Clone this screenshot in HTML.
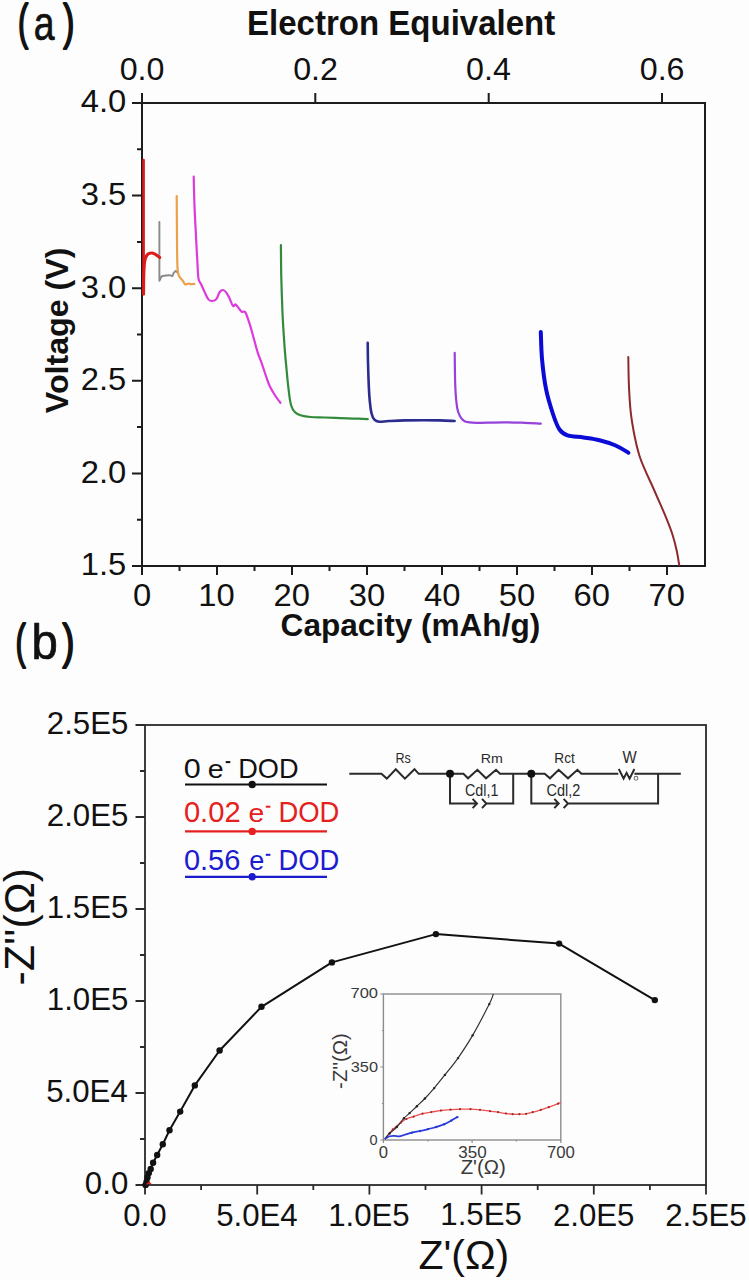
<!DOCTYPE html>
<html><head><meta charset="utf-8"><title>Figure</title>
<style>
html,body{margin:0;padding:0;background:#fdfdfd;overflow:hidden;}
svg{display:block;}
text{font-family:"Liberation Sans", sans-serif;}
</style></head>
<body>
<svg width="749" height="1280" viewBox="0 0 749 1280">
<rect width="749" height="1280" fill="#fdfdfd"/>
<rect x="142" y="103" width="563" height="463" fill="none" stroke="#1c1c1c" stroke-width="2"/>
<path d="M132,566.0H142M132,473.4H142M132,380.8H142M132,288.2H142M132,195.6H142M132,103.0H142M137,519.7H142M137,427.1H142M137,334.5H142M137,241.9H142M137,149.3H142M142.0,566V575M217.0,566V575M292.0,566V575M367.0,566V575M442.0,566V575M517.0,566V575M592.0,566V575M667.0,566V575M179.5,566V571M254.5,566V571M329.5,566V571M404.5,566V571M479.5,566V571M554.5,566V571M629.5,566V571M142.0,103V93M315.3,103V93M488.7,103V93M662.0,103V93" stroke="#1c1c1c" stroke-width="2" fill="none"/>
<path d="M159.4,222.0 L159.4,280.8 L161.7,276.2 L165.7,275.5 L169.7,275.2 L172.4,276.2 L173.7,272.8 L175.7,270.8 L177.0,272.2" stroke="#8a8a8a" stroke-width="1.9" fill="none" stroke-linejoin="round" stroke-linecap="round"/>
<path d="M143.6,160.0 L143.6,230.0 L143.6,294.0" stroke="#de1a1a" stroke-width="2.6" fill="none" stroke-linejoin="round" stroke-linecap="round"/>
<path d="M143.6,294.0 C143.6,290.8 143.6,280.3 143.8,275.0 C144.0,269.7 144.1,265.3 144.6,262.0 C145.1,258.7 145.9,256.5 147.0,255.0 C148.1,253.5 149.7,253.2 151.0,253.1 C152.3,252.9 153.6,253.4 155.0,254.1 C156.4,254.8 158.9,256.9 159.7,257.5" stroke="#de1a1a" stroke-width="3" fill="none" stroke-linejoin="round" stroke-linecap="round"/>
<path d="M176.7,196.0 C176.8,203.3 176.9,228.0 177.0,240.0 C177.1,252.0 177.2,262.0 177.5,268.0 C177.8,274.0 178.3,274.2 179.1,276.2 C179.9,278.2 181.4,278.9 182.4,280.2 C183.4,281.5 184.1,283.6 185.1,284.2 C186.1,284.8 187.4,283.5 188.4,283.5 C189.4,283.5 190.1,284.1 191.1,284.2 C192.1,284.3 193.8,283.9 194.4,283.9" stroke="#eca04c" stroke-width="2.2" fill="none" stroke-linejoin="round" stroke-linecap="round"/>
<path d="M193.7,176.7 C193.8,181.1 194.1,194.5 194.4,203.4 C194.7,212.3 195.2,221.2 195.7,230.1 C196.1,239.0 196.6,248.8 197.1,256.8 C197.6,264.8 197.8,273.7 198.4,278.2 C199.1,282.7 200.0,281.8 201.0,284.0 C202.0,286.2 203.1,288.8 204.3,291.4 C205.5,294.0 207.1,297.8 208.4,299.4 C209.8,301.0 211.1,301.1 212.4,301.0 C213.7,300.9 215.2,300.6 216.4,299.1 C217.6,297.6 218.6,293.5 219.7,292.0 C220.8,290.5 221.9,289.9 223.0,290.0 C224.1,290.1 225.3,291.2 226.4,292.7 C227.5,294.1 228.6,296.5 229.7,298.7 C230.8,300.9 232.0,305.1 233.0,306.0 C234.0,306.9 234.7,303.9 235.7,304.4 C236.7,304.8 238.1,307.5 239.1,308.7 C240.1,309.9 240.7,311.1 241.7,311.7 C242.7,312.3 244.1,311.0 245.1,312.1 C246.1,313.2 246.7,315.3 247.7,318.1 C248.7,320.9 250.0,324.9 251.1,328.7 C252.2,332.5 253.3,336.8 254.4,340.8 C255.5,344.8 256.6,349.0 257.8,352.8 C259.0,356.6 260.5,359.7 261.8,363.5 C263.1,367.3 264.5,371.7 265.8,375.5 C267.1,379.3 268.2,382.9 269.8,386.2 C271.4,389.5 273.3,392.7 275.1,395.5 C276.9,398.3 279.5,401.6 280.4,402.8" stroke="#dc3adc" stroke-width="2.2" fill="none" stroke-linejoin="round" stroke-linecap="round"/>
<path d="M280.9,245.2 C281.0,250.0 281.0,262.8 281.2,274.1 C281.5,285.4 282.0,301.4 282.5,313.1 C283.0,324.8 283.8,335.3 284.4,344.4 C285.0,353.5 285.7,360.0 286.4,367.8 C287.1,375.6 288.0,385.0 288.8,391.2 C289.5,397.5 290.1,401.8 291.1,405.3 C292.1,408.8 293.3,410.6 295.0,412.3 C296.7,414.0 298.6,414.7 301.2,415.5 C303.9,416.3 306.7,416.7 310.6,417.0 C314.5,417.3 319.8,417.3 324.7,417.5 C329.6,417.7 335.1,417.9 340.3,418.1 C345.5,418.3 351.3,418.4 355.9,418.6 C360.5,418.8 365.7,419.0 367.7,419.1" stroke="#318b3b" stroke-width="2.2" fill="none" stroke-linejoin="round" stroke-linecap="round"/>
<path d="M367.7,342.8 C367.8,346.0 367.8,354.8 368.0,362.0 C368.2,369.2 368.5,379.4 368.8,386.1 C369.1,392.8 369.4,397.6 369.9,402.1 C370.3,406.6 370.8,410.4 371.5,413.3 C372.2,416.2 373.1,418.3 374.4,419.7 C375.7,421.1 376.8,421.5 379.2,421.7 C381.6,421.9 384.5,421.2 388.8,421.0 C393.1,420.8 399.0,420.5 404.9,420.4 C410.8,420.3 418.2,420.2 424.1,420.2 C430.0,420.2 435.0,420.3 440.1,420.4 C445.2,420.5 452.2,420.9 454.6,421.0" stroke="#2c2c8e" stroke-width="2.6" fill="none" stroke-linejoin="round" stroke-linecap="round"/>
<path d="M454.7,352.8 C454.8,358.5 454.9,377.6 455.3,386.8 C455.7,396.0 456.4,403.1 457.2,408.0 C458.0,412.9 459.1,414.4 460.2,416.5 C461.3,418.6 462.5,419.9 464.0,420.9 C465.5,421.9 466.9,422.0 469.0,422.3 C471.1,422.6 471.0,422.8 476.7,422.8 C482.4,422.8 495.4,422.3 503.4,422.3 C511.4,422.3 518.6,422.6 524.8,422.8 C531.0,423.0 538.1,423.5 540.8,423.6" stroke="#9642da" stroke-width="2.2" fill="none" stroke-linejoin="round" stroke-linecap="round"/>
<path d="M540.8,332.0 C541.0,336.7 541.2,350.4 542.1,360.0 C543.0,369.6 544.3,380.5 546.1,389.4 C547.9,398.3 550.6,406.8 552.8,413.5 C555.0,420.2 557.0,425.9 559.5,429.5 C562.0,433.1 563.5,434.1 567.5,435.4 C571.5,436.7 578.2,436.7 583.5,437.5 C588.8,438.3 594.1,438.9 599.5,440.2 C604.9,441.5 610.8,443.4 615.6,445.5 C620.4,447.6 626.3,451.5 628.4,452.7" stroke="#0a0cd6" stroke-width="4" fill="none" stroke-linejoin="round" stroke-linecap="round"/>
<path d="M628.3,357.1 C628.4,361.7 628.5,375.8 628.9,384.9 C629.3,394.0 629.8,403.5 630.7,411.9 C631.6,420.3 633.0,428.0 634.4,435.2 C635.8,442.4 637.5,449.3 639.2,455.0 C640.9,460.7 642.6,464.2 644.8,469.3 C646.9,474.4 649.7,480.1 652.1,485.5 C654.5,490.9 656.9,496.3 659.2,501.7 C661.6,507.1 664.0,512.4 666.2,517.8 C668.4,523.2 670.6,528.6 672.3,534.0 C674.0,539.4 675.5,545.0 676.6,550.2 C677.8,555.4 678.8,562.5 679.2,565.0" stroke="#8e2a2e" stroke-width="2" fill="none" stroke-linejoin="round" stroke-linecap="round"/>
<rect x="145" y="725" width="561" height="460" fill="none" stroke="#2a2a2a" stroke-width="1.8"/>
<path d="M135.5,1185.0H145M145.0,1185V1194.5M135.5,1093.0H145M257.2,1185V1194.5M135.5,1001.0H145M369.4,1185V1194.5M135.5,909.0H145M481.6,1185V1194.5M135.5,817.0H145M593.8,1185V1194.5M135.5,725.0H145M706.0,1185V1194.5M140,1139.0H145M201.1,1185V1190M140,1047.0H145M313.3,1185V1190M140,955.0H145M425.5,1185V1190M140,863.0H145M537.7,1185V1190M140,771.0H145M649.9,1185V1190" stroke="#2a2a2a" stroke-width="1.8" fill="none"/>
<path d="M145.6,1184.9 L146.5,1182.0 L147.5,1177.4 L148.8,1173.1 L150.7,1169.0 L153.1,1162.8 L157.2,1155.0 L162.8,1144.3 L169.5,1130.3 L180.2,1111.6 L194.8,1085.4 L219.6,1050.5 L261.5,1006.8 L331.9,962.4 L435.9,934.1 L559.1,943.6 L654.8,1000.1" stroke="#111" stroke-width="2" fill="none" stroke-linejoin="round"/>
<circle cx="145.6" cy="1184.9" r="3.2" fill="#111"/>
<circle cx="146.5" cy="1182" r="3.2" fill="#111"/>
<circle cx="147.5" cy="1177.4" r="3.2" fill="#111"/>
<circle cx="148.8" cy="1173.1" r="3.2" fill="#111"/>
<circle cx="150.7" cy="1169" r="3.2" fill="#111"/>
<circle cx="153.1" cy="1162.8" r="3.2" fill="#111"/>
<circle cx="157.2" cy="1155" r="3.2" fill="#111"/>
<circle cx="162.8" cy="1144.3" r="3.2" fill="#111"/>
<circle cx="169.5" cy="1130.3" r="3.2" fill="#111"/>
<circle cx="180.2" cy="1111.6" r="3.2" fill="#111"/>
<circle cx="194.8" cy="1085.4" r="3.2" fill="#111"/>
<circle cx="219.6" cy="1050.5" r="3.2" fill="#111"/>
<circle cx="261.5" cy="1006.8" r="3.2" fill="#111"/>
<circle cx="331.9" cy="962.4" r="3.2" fill="#111"/>
<circle cx="435.9" cy="934.1" r="3.2" fill="#111"/>
<circle cx="559.1" cy="943.6" r="3.2" fill="#111"/>
<circle cx="654.8" cy="1000.1" r="3.2" fill="#111"/>
<path d="M146.5,1184.5 L149,1182.5 L151,1184" stroke="#e02020" stroke-width="1.5" fill="none"/>
<path d="M185,784.5H327" stroke="#111" stroke-width="2.2"/>
<circle cx="252.2" cy="784.5" r="3.7" fill="#111"/>
<rect x="225.7" y="761.1" width="4.6" height="2" fill="#111"/>
<path d="M185,831.4H327" stroke="#e42020" stroke-width="2.2"/>
<circle cx="252.2" cy="831.4" r="3.7" fill="#e42020"/>
<rect x="265.8" y="805.7" width="4.6" height="2" fill="#e42020"/>
<path d="M185,876.8H327" stroke="#1b1bd0" stroke-width="2.2"/>
<circle cx="252.2" cy="876.8" r="3.7" fill="#1b1bd0"/>
<rect x="265.8" y="853.8" width="4.6" height="2" fill="#1b1bd0"/>
<path d="M349.3,773.8H381.4 L386.8,778.6 L395.8,769.2 L404.9,778.6 L414.5,769.2 L418.7,773.8 H463.4 L468,778.3 L477.4,769.8 L486,778.3 L496,769.8 L500,773.8 H544.7 L550,778.3 L558.7,769.8 L568,778.3 L577.4,769.8 L581.4,773.8 H618.3 M634.4,773.8H680.8 M618.8,769 L623.6,778.6 L626.6,772.9 L629.6,778.6 L634.4,769 M450,773.8V803.5H477 M486.4,803.5H513.2V773.8 M531.3,773.8V803.5H558.7 M568,803.5H658.1V773.8 M472.6,798.9 L477,803.5 L472.6,808.1 M482.0,798.9 L486.4,803.5 L482.0,808.1 M554.3000000000001,798.9 L558.7,803.5 L554.3000000000001,808.1 M563.6,798.9 L568,803.5 L563.6,808.1" stroke="#2a2a2a" stroke-width="2" fill="none" stroke-linejoin="miter"/>
<circle cx="450" cy="773.8" r="4" fill="#111"/>
<circle cx="531.3" cy="773.8" r="4" fill="#111"/>
<circle cx="636" cy="778.3" r="1.9" fill="none" stroke="#777" stroke-width="1.1"/>
<rect x="383.4" y="994" width="177.39999999999998" height="146" fill="none" stroke="#8c8c8c" stroke-width="1.4"/>
<path d="M380.4,1140.0H383.4M383.4,1140V1143M380.4,1067.0H383.4M472.1,1140V1143M380.4,994.0H383.4M560.8,1140V1143M381.9,1103.5H383.4M427.8,1140V1141.5M381.9,1030.5H383.4M516.4,1140V1141.5" stroke="#8c8c8c" stroke-width="1.2" fill="none"/>
<path d="M384.8,1139.0 C386.1,1137.4 390.1,1132.1 392.8,1129.4 C395.5,1126.7 398.5,1124.4 400.8,1122.7 C403.1,1121.0 404.2,1120.0 406.4,1119.0 C408.5,1118.0 411.0,1117.5 413.7,1116.6 C416.4,1115.7 419.6,1114.5 422.5,1113.7 C425.4,1113.0 428.2,1112.6 431.3,1112.1 C434.4,1111.6 437.7,1110.9 440.9,1110.5 C444.1,1110.1 447.3,1109.9 450.5,1109.7 C453.7,1109.5 456.8,1109.3 460.1,1109.2 C463.4,1109.1 467.2,1109.1 470.5,1109.2 C473.8,1109.3 476.8,1109.5 480.0,1109.8 C483.2,1110.1 487.0,1110.8 490.0,1111.2 C493.0,1111.6 495.3,1111.8 498.0,1112.2 C500.7,1112.6 503.6,1113.2 506.0,1113.5 C508.4,1113.8 510.5,1114.1 512.7,1114.2 C514.9,1114.3 517.2,1114.3 519.4,1114.2 C521.6,1114.1 523.9,1114.1 526.1,1113.8 C528.3,1113.5 530.2,1112.8 532.7,1112.2 C535.2,1111.6 538.1,1110.7 540.8,1109.9 C543.5,1109.1 545.9,1108.2 548.8,1107.2 C551.7,1106.2 556.1,1104.5 558.1,1103.7 C560.1,1102.9 560.5,1102.5 561.0,1102.3" stroke="#f05050" stroke-width="1.3" fill="none"/>
<path d="M384.8,1139.0 C385.6,1138.1 387.6,1135.4 389.6,1133.4 C391.6,1131.4 394.4,1129.5 396.8,1127.0 C399.2,1124.5 401.9,1120.5 404.0,1118.2 C406.1,1115.9 407.5,1115.1 409.6,1113.1 C411.8,1111.1 414.3,1108.6 416.9,1106.2 C419.4,1103.8 422.0,1101.5 424.9,1098.5 C427.8,1095.5 430.9,1092.0 434.2,1088.1 C437.5,1084.2 440.9,1079.9 444.9,1074.9 C448.9,1069.9 453.4,1064.7 458.0,1058.1 C462.6,1051.5 467.4,1044.4 472.6,1035.4 C477.8,1026.4 485.8,1011.0 489.3,1004.1 C492.8,997.2 492.7,995.7 493.4,994.0" stroke="#333" stroke-width="1.2" fill="none"/>
<path d="M384.8,1139.0 C385.6,1138.5 388.0,1136.7 389.6,1136.2 C391.2,1135.7 392.8,1135.8 394.4,1135.8 C396.0,1135.8 397.6,1136.4 399.2,1136.3 C400.8,1136.2 401.9,1135.6 404.0,1135.0 C406.1,1134.4 409.3,1133.3 412.0,1132.6 C414.7,1131.9 417.4,1131.6 420.1,1131.0 C422.8,1130.4 425.4,1129.8 428.1,1129.1 C430.8,1128.4 433.4,1127.8 436.1,1127.0 C438.8,1126.2 441.6,1125.4 444.1,1124.3 C446.6,1123.2 449.1,1121.8 451.3,1120.6 C453.5,1119.4 456.4,1117.7 457.4,1117.1" stroke="#2a3ad8" stroke-width="1.7" fill="none"/>
<circle cx="412" cy="1132.6" r="1.2" fill="#2a3ad8"/>
<circle cx="420.1" cy="1131" r="1.2" fill="#2a3ad8"/>
<circle cx="428.1" cy="1129.1" r="1.2" fill="#2a3ad8"/>
<circle cx="436.1" cy="1127" r="1.2" fill="#2a3ad8"/>
<circle cx="444.1" cy="1124.3" r="1.2" fill="#2a3ad8"/>
<circle cx="451.3" cy="1120.6" r="1.2" fill="#2a3ad8"/>
<circle cx="457.4" cy="1117.1" r="1.2" fill="#2a3ad8"/>
<circle cx="389.6" cy="1133.4" r="1.2" fill="#222"/>
<circle cx="396.8" cy="1127" r="1.2" fill="#222"/>
<circle cx="404" cy="1118.2" r="1.2" fill="#222"/>
<circle cx="409.6" cy="1113.1" r="1.2" fill="#222"/>
<circle cx="416.9" cy="1106.2" r="1.2" fill="#222"/>
<circle cx="424.9" cy="1098.5" r="1.2" fill="#222"/>
<circle cx="434.2" cy="1088.1" r="1.2" fill="#222"/>
<circle cx="444.9" cy="1074.9" r="1.2" fill="#222"/>
<circle cx="458" cy="1058.1" r="1.2" fill="#222"/>
<circle cx="472.6" cy="1035.4" r="1.2" fill="#222"/>
<circle cx="489.3" cy="1004.1" r="1.2" fill="#222"/>
<circle cx="392.8" cy="1129.4" r="1.1" fill="#a02a2a"/>
<circle cx="400.8" cy="1122.7" r="1.1" fill="#a02a2a"/>
<circle cx="406.4" cy="1119" r="1.1" fill="#a02a2a"/>
<circle cx="413.7" cy="1116.6" r="1.1" fill="#a02a2a"/>
<circle cx="422.5" cy="1113.7" r="1.1" fill="#a02a2a"/>
<circle cx="431.3" cy="1112.1" r="1.1" fill="#a02a2a"/>
<circle cx="440.9" cy="1110.5" r="1.1" fill="#a02a2a"/>
<circle cx="450.5" cy="1109.7" r="1.1" fill="#a02a2a"/>
<circle cx="460.1" cy="1109.2" r="1.1" fill="#a02a2a"/>
<circle cx="470.5" cy="1109.2" r="1.1" fill="#a02a2a"/>
<circle cx="480" cy="1109.8" r="1.1" fill="#a02a2a"/>
<circle cx="490" cy="1111.2" r="1.1" fill="#a02a2a"/>
<circle cx="498" cy="1112.2" r="1.1" fill="#a02a2a"/>
<circle cx="506" cy="1113.5" r="1.1" fill="#a02a2a"/>
<circle cx="512.7" cy="1114.2" r="1.1" fill="#a02a2a"/>
<circle cx="519.4" cy="1114.2" r="1.1" fill="#a02a2a"/>
<circle cx="526.1" cy="1113.8" r="1.1" fill="#a02a2a"/>
<circle cx="532.7" cy="1112.2" r="1.1" fill="#a02a2a"/>
<circle cx="540.8" cy="1109.9" r="1.1" fill="#a02a2a"/>
<circle cx="548.8" cy="1107.2" r="1.1" fill="#a02a2a"/>
<circle cx="558.1" cy="1103.7" r="1.1" fill="#a02a2a"/>
<g fill="#111">
<text transform="translate(18.09,39.36) scale(0.7686,1.2535)" font-size="40" stroke="#111" stroke-width="1.6" stroke-linejoin="round">(</text>
<text transform="translate(33.65,40.04) scale(0.9336,1.1946)" font-size="40" stroke="#111" stroke-width="0.6" stroke-linejoin="round">a</text>
<text transform="translate(63.16,39.36) scale(0.8347,1.2535)" font-size="40" stroke="#111" stroke-width="1.6" stroke-linejoin="round">)</text>
<text transform="translate(247.03,35.30) scale(0.8254,0.8793)" font-size="40" font-weight="bold">Electron Equivalent</text>
<text transform="translate(280.62,636.30) scale(0.7895,0.7862)" font-size="40" font-weight="bold">Capacity (mAh/g)</text>
<text transform="translate(67.89,413.20) rotate(-90) scale(0.8049,0.7893)" font-size="40" font-weight="bold">Voltage (V)</text>
<text transform="translate(15.39,658.06) scale(0.7686,1.2201)" font-size="40" stroke="#111" stroke-width="1.6" stroke-linejoin="round">(</text>
<text transform="translate(31.40,659.02) scale(1.1828,1.2295)" font-size="40" stroke="#111" stroke-width="0.6" stroke-linejoin="round">b</text>
<text transform="translate(62.49,658.06) scale(0.8926,1.2201)" font-size="40" stroke="#111" stroke-width="1.6" stroke-linejoin="round">)</text>
<text transform="translate(418.52,1268.60) scale(1.0235,1.0218)" font-size="40">Z'(&#937;)</text>
<text transform="translate(34.40,985.38) rotate(-90) scale(1.0717,1.0727)" font-size="40">-Z''(&#937;)</text>
<text transform="translate(183.85,777.52) scale(0.7636,0.7080)" font-size="40" fill="#111">0</text>
<text transform="translate(207.75,777.84) scale(0.7147,0.6253)" font-size="40" fill="#111">e</text>
<text transform="translate(238.20,777.52) scale(0.6782,0.7009)" font-size="40" fill="#111">DOD</text>
<text transform="translate(183.91,822.22) scale(0.7286,0.7327)" font-size="40" fill="#e42020">0.02</text>
<text transform="translate(248.56,822.24) scale(0.7093,0.6437)" font-size="40" fill="#e42020">e</text>
<text transform="translate(278.47,822.02) scale(0.6854,0.7150)" font-size="40" fill="#e42020">DOD</text>
<text transform="translate(183.91,870.22) scale(0.7248,0.7327)" font-size="40" fill="#1b1bd0">0.56</text>
<text transform="translate(249.21,870.23) scale(0.6773,0.6759)" font-size="40" fill="#1b1bd0">e</text>
<text transform="translate(278.48,870.02) scale(0.6842,0.7150)" font-size="40" fill="#1b1bd0">DOD</text>
<text transform="translate(395.38,762.51) scale(0.3141,0.3459)" font-size="40" fill="#2a2a2a">Rs</text>
<text transform="translate(480.84,762.70) scale(0.3556,0.3418)" font-size="40" fill="#2a2a2a">Rm</text>
<text transform="translate(554.29,762.61) scale(0.3416,0.3495)" font-size="40" fill="#2a2a2a">Rct</text>
<text transform="translate(622.61,762.70) scale(0.3758,0.3891)" font-size="40" fill="#2a2a2a">W</text>
<text transform="translate(464.98,796.30) scale(0.3575,0.4241)" font-size="40" fill="#2a2a2a">Cdl,1</text>
<text transform="translate(546.57,796.00) scale(0.3630,0.4138)" font-size="40" fill="#2a2a2a">Cdl,2</text>
<text transform="translate(350.47,998.31) scale(0.4126,0.3788)" font-size="40" fill="#3a3a3a">700</text>
<text transform="translate(350.69,1071.91) scale(0.4094,0.3752)" font-size="40" fill="#3a3a3a">350</text>
<text transform="translate(369.45,1144.70) scale(0.3636,0.3823)" font-size="40" fill="#3a3a3a">0</text>
<text transform="translate(378.78,1158.10) scale(0.4156,0.4035)" font-size="40" fill="#3a3a3a">0</text>
<text transform="translate(458.26,1157.70) scale(0.4251,0.4000)" font-size="40" fill="#3a3a3a">350</text>
<text transform="translate(546.96,1157.70) scale(0.4190,0.4000)" font-size="40" fill="#3a3a3a">700</text>
<text transform="translate(460.66,1173.50) scale(0.5094,0.5091)" font-size="40" fill="#3a3a3a">Z'(&#937;)</text>
<text transform="translate(347.00,1088.89) rotate(-90) scale(0.5093,0.5091)" font-size="40" fill="#3a3a3a">-Z''(&#937;)</text>
<text transform="translate(80.78,575.01) scale(0.8189,0.7858)" font-size="40">1.5</text>
<text transform="translate(80.78,482.80) scale(0.8189,0.7858)" font-size="40">2.0</text>
<text transform="translate(80.78,390.20) scale(0.8189,0.7858)" font-size="40">2.5</text>
<text transform="translate(80.78,297.60) scale(0.8189,0.7858)" font-size="40">3.0</text>
<text transform="translate(80.78,205.00) scale(0.8189,0.7858)" font-size="40">3.5</text>
<text transform="translate(80.78,112.40) scale(0.8189,0.7858)" font-size="40">4.0</text>
<text transform="translate(132.89,605.80) scale(0.8189,0.7858)" font-size="40">0</text>
<text transform="translate(198.17,605.80) scale(0.8189,0.7858)" font-size="40">10</text>
<text transform="translate(273.58,605.80) scale(0.8189,0.7858)" font-size="40">20</text>
<text transform="translate(348.78,605.80) scale(0.8189,0.7858)" font-size="40">30</text>
<text transform="translate(423.98,605.80) scale(0.8189,0.7858)" font-size="40">40</text>
<text transform="translate(498.68,605.80) scale(0.8189,0.7858)" font-size="40">50</text>
<text transform="translate(573.58,605.80) scale(0.8189,0.7858)" font-size="40">60</text>
<text transform="translate(648.58,605.80) scale(0.8189,0.7858)" font-size="40">70</text>
<text transform="translate(119.64,80.20) scale(0.8057,0.7965)" font-size="40">0.0</text>
<text transform="translate(293.18,80.20) scale(0.8057,0.7965)" font-size="40">0.2</text>
<text transform="translate(466.11,80.20) scale(0.8057,0.7965)" font-size="40">0.4</text>
<text transform="translate(639.74,80.20) scale(0.8057,0.7965)" font-size="40">0.6</text>
<text transform="translate(84.87,1194.11) scale(0.7801,0.7717)" font-size="40">0.0</text>
<text transform="translate(46.25,1102.11) scale(0.7801,0.7717)" font-size="40">5.0E4</text>
<text transform="translate(46.84,1010.11) scale(0.7801,0.7717)" font-size="40">1.0E5</text>
<text transform="translate(46.84,917.72) scale(0.7801,0.7717)" font-size="40">1.5E5</text>
<text transform="translate(46.84,826.11) scale(0.7801,0.7717)" font-size="40">2.0E5</text>
<text transform="translate(46.84,734.11) scale(0.7801,0.7717)" font-size="40">2.5E5</text>
<text transform="translate(123.35,1225.81) scale(0.7801,0.7717)" font-size="40">0.0</text>
<text transform="translate(216.14,1225.81) scale(0.7801,0.7717)" font-size="40">5.0E4</text>
<text transform="translate(328.15,1225.81) scale(0.7801,0.7717)" font-size="40">1.0E5</text>
<text transform="translate(440.35,1225.42) scale(0.7801,0.7717)" font-size="40">1.5E5</text>
<text transform="translate(552.94,1225.81) scale(0.7801,0.7717)" font-size="40">2.0E5</text>
<text transform="translate(665.14,1225.81) scale(0.7801,0.7717)" font-size="40">2.5E5</text>
</g>
</svg>
</body></html>
